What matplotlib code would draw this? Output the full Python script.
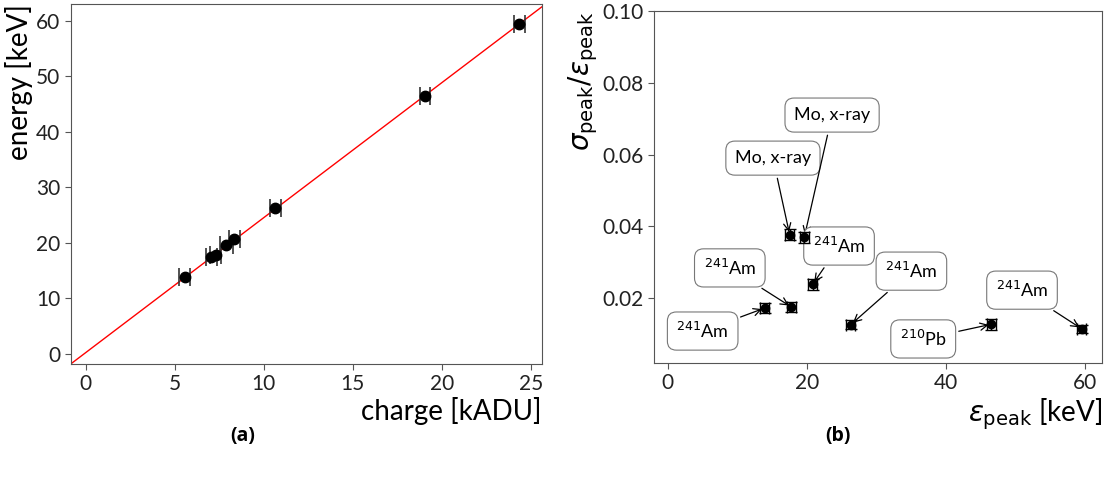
import matplotlib
matplotlib.use("Agg")
import matplotlib.pyplot as plt
import numpy as np

plt.rcParams['font.family'] = ['Lato', 'DejaVu Sans']
plt.rcParams['mathtext.fontset'] = 'dejavusans'

# panel (a): calibration
charge = [5.55, 7.05, 7.3, 7.9, 8.35, 10.65, 19.05, 24.35]
energy = [13.9, 17.5, 17.75, 19.6, 20.8, 26.3, 46.5, 59.5]
charge_err = [0.3, 0.3, 0.3, 0.35, 0.3, 0.3, 0.3, 0.3]
fit_slope = 2.433
fit_offset = 0.24

# panel (b): resolution
eps_peak = [13.9, 17.5, 17.75, 19.6, 20.8, 26.3, 46.5, 59.5]
rel_sigma = [0.0172, 0.0377, 0.0175, 0.0369, 0.0238, 0.0126, 0.0127, 0.0114]
eps_err = [0.65, 0.65, 0.65, 0.65, 0.65, 0.65, 0.65, 0.65]
rel_err = [0.0015, 0.0016, 0.0015, 0.0016, 0.0015, 0.0012, 0.0015, 0.0012]
labels = [r"$^{241}$Am", "Mo, x-ray", r"$^{241}$Am", "Mo, x-ray",
          r"$^{241}$Am", r"$^{241}$Am", r"$^{210}$Pb", r"$^{241}$Am"]
label_xy = [(5.0, 0.0108), (15.1, 0.059), (8.9, 0.0284), (23.6, 0.071),
            (24.6, 0.0345), (35.0, 0.0275), (36.7, 0.0086), (50.9, 0.0222)]

fig = plt.figure(figsize=(11.06, 4.79), dpi=100)
ax1 = fig.add_axes([0.0639, 0.2401, 0.4259, 0.7509])
ax2 = fig.add_axes([0.5913, 0.2422, 0.4051, 0.7348])

for ax in (ax1, ax2):
    for s in ax.spines.values():
        s.set_color('#555555')
    ax.tick_params(labelsize=15, colors='#222222', length=4, color='#555555')

# (a)
xlim = (-0.84, 25.6)
xx = np.array(xlim)
ax1.plot(xx, fit_slope * xx + fit_offset, color='red', lw=1)
ax1.errorbar(charge, energy, xerr=charge_err, fmt='o',
             color='black', ms=7.5, ecolor='#333333', elinewidth=1,
             capsize=6.5, capthick=1.2)
ax1.set_xlim(*xlim)
ax1.set_ylim(-1.8, 63.0)
ax1.set_xticks([0, 5, 10, 15, 20, 25])
ax1.set_yticks([0, 10, 20, 30, 40, 50, 60])
ax1.set_xlabel("charge [kADU]", fontsize=20, loc='right', labelpad=2)
ax1.set_ylabel("energy [keV]", fontsize=20, loc='top', labelpad=2)

# (b)
ax2.errorbar(eps_peak, rel_sigma, xerr=eps_err, yerr=rel_err, fmt='o',
             color='black', ms=6, ecolor='black', elinewidth=1, capsize=4.5,
             zorder=5)
for lab, (tx, ty), x, y in zip(labels, label_xy, eps_peak, rel_sigma):
    ax2.annotate(lab, xy=(x, y), xytext=(tx, ty), fontsize=13,
                 ha='center', va='center', zorder=2,
                 bbox=dict(boxstyle='round,pad=0.5', fc='white', ec='#777777', lw=0.8),
                 arrowprops=dict(arrowstyle='->', color='black', lw=0.9))
ax2.set_xlim(-2.0, 62.4)
ax2.set_ylim(0.0019, 0.10)
ax2.set_xticks([0, 20, 40, 60])
ax2.set_yticks([0.02, 0.04, 0.06, 0.08, 0.10])
ax2.set_xlabel(r"$\varepsilon_\mathrm{peak}$ [keV]", fontsize=20, loc='right', labelpad=2)
ax2.set_ylabel(r"$\sigma_\mathrm{peak}/\varepsilon_\mathrm{peak}$", fontsize=20, loc='top', labelpad=2)

fig.text(0.219, 0.0898, "(a)", fontsize=14, fontweight='bold', family='Open Sans',
         ha='center', va='center')
fig.text(0.758, 0.0898, "(b)", fontsize=14, fontweight='bold', family='Open Sans',
         ha='center', va='center')

fig.savefig("out.png", dpi=100)
